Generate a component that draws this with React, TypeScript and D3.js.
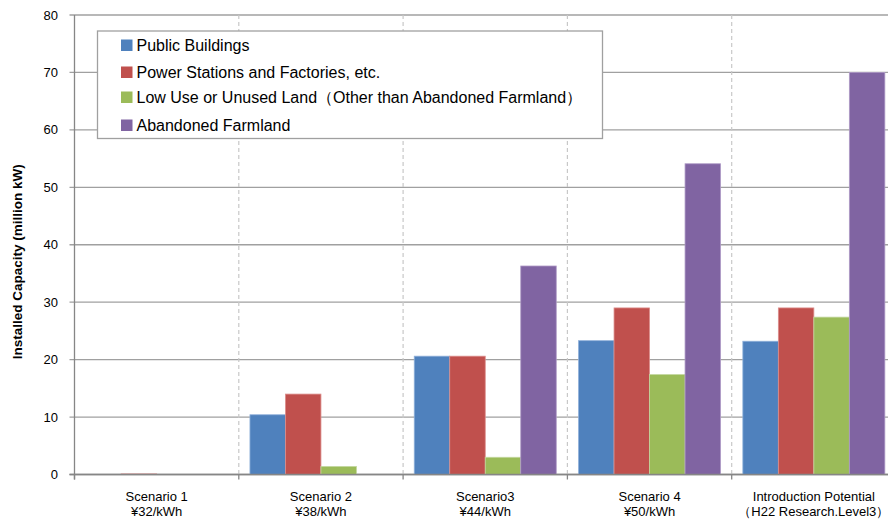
import React from "react";
import * as d3 from "d3";

const categories = ["Scenario 1", "Scenario 2", "Scenario3", "Scenario 4", "Introduction Potential"];
const subLabels = ["¥32/kWh", "¥38/kWh", "¥44/kWh", "¥50/kWh", "（H22 Research.Level3）"];
const seriesNames = [
  "Public Buildings",
  "Power Stations and Factories, etc.",
  "Low Use or Unused Land（Other than Abandoned Farmland）",
  "Abandoned Farmland",
];
const publicBuildings = [0, 10.4, 20.6, 23.3, 23.2];
const powerStations = [0.1, 14.0, 20.6, 29.0, 29.0];
const lowUseLand = [0, 1.4, 3.0, 17.4, 27.4];
const abandonedFarmland = [0, 0, 36.3, 54.1, 70.0];
const yTicks = [0, 10, 20, 30, 40, 50, 60, 70, 80];

const seriesValues = [publicBuildings, powerStations, lowUseLand, abandonedFarmland];
const colors = ["#4F81BD", "#C0504D", "#9BBB59", "#8064A2"];
const strokes = ["#8FB0DA", "#DC8E8C", "#C3D79F", "#AE9AC6"];

const W = 888;
const H = 519;
const left = 74.5;
const catW = 164.3;
const top = 15;
const bottom = 474.5;

export default function App() {
  const x0 = d3
    .scaleBand<string>()
    .domain(categories)
    .range([left, left + catW * categories.length])
    .paddingInner(0)
    .paddingOuter(0);
  const x1 = d3
    .scaleBand<string>()
    .domain(seriesNames)
    .range([0, x0.bandwidth()])
    .paddingInner(0)
    .paddingOuter(0.314);
  const y = d3.scaleLinear().domain([0, 80]).range([bottom, top]);

  const font = "'Liberation Sans', Arial, sans-serif";

  return (
    <div style={{ position: "absolute", left: 0, top: 0 }}>
      <svg width={W} height={H} style={{ display: "block", fontFamily: font }}>
        <rect x={0} y={0} width={W} height={H} fill="#fff" />
        {yTicks.map((t) => (
          <line
            key={"g" + t}
            x1={left - 5}
            x2={W}
            y1={y(t)}
            y2={y(t)}
            stroke={t === 0 ? "#868686" : "#A0A0A0"}
            strokeWidth={1.3}
          />
        ))}
        {categories.slice(1).map((c) => (
          <line
            key={"d" + c}
            x1={x0(c)!}
            x2={x0(c)!}
            y1={top}
            y2={bottom}
            stroke="#C8C8C8"
            strokeWidth={1.2}
            strokeDasharray="4,3"
          />
        ))}
        {categories.map((c, ci) => (
          <g key={c} transform={`translate(${x0(c)},0)`}>
            {seriesNames.map((s, si) => {
              const v = seriesValues[si][ci];
              if (v <= 0) return null;
              return (
                <rect
                  key={s}
                  x={x1(s)!}
                  y={y(v)}
                  width={x1.bandwidth()}
                  height={y(0) - y(v)}
                  fill={colors[si]}
                  stroke={strokes[si]}
                  strokeWidth={0.8}
                />
              );
            })}
          </g>
        ))}
        <line x1={left} x2={left} y1={top} y2={bottom + 5} stroke="#868686" strokeWidth={1.3} />
        <line x1={left - 5} x2={W} y1={bottom} y2={bottom} stroke="#868686" strokeWidth={1.3} />
        {categories.map((c) => (
          <line
            key={"t" + c}
            x1={x0(c)!}
            x2={x0(c)!}
            y1={bottom}
            y2={bottom + 5}
            stroke="#868686"
            strokeWidth={1.3}
          />
        ))}
        {yTicks.map((t) => (
          <text key={"yl" + t} x={58} y={y(t) + 4.5} textAnchor="end" fontSize={13} fill="#000">
            {t}
          </text>
        ))}
        {categories.map((c, i) => (
          <g key={"xl" + c}>
            <text x={x0(c)! + x0.bandwidth() / 2} y={500.5} textAnchor="middle" fontSize={13} fill="#000">
              {c}
            </text>
            <text x={x0(c)! + x0.bandwidth() / 2} y={516} textAnchor="middle" fontSize={13} fill="#000">
              {subLabels[i]}
            </text>
          </g>
        ))}
        <text
          transform={`translate(22,${(top + bottom) / 2 + 17}) rotate(-90)`}
          textAnchor="middle"
          fontSize={13.5}
          fontWeight="bold"
          fill="#000"
        >
          Installed Capacity (million  kW)
        </text>
        <rect x={97.5} y={31} width={505} height={107.5} fill="#fff" stroke="#A0A0A0" strokeWidth={1.3} />
        {seriesNames.map((s, i) => {
          const cy = [45, 72, 97, 125][i];
          return (
            <g key={"lg" + s}>
              <rect x={121} y={cy - 5.5} width={11.5} height={11.5} fill={colors[i]} />
              <text x={136.5} y={cy + 5.5} fontSize={16} fill="#000">
                {s}
              </text>
            </g>
          );
        })}
      </svg>
    </div>
  );
}
